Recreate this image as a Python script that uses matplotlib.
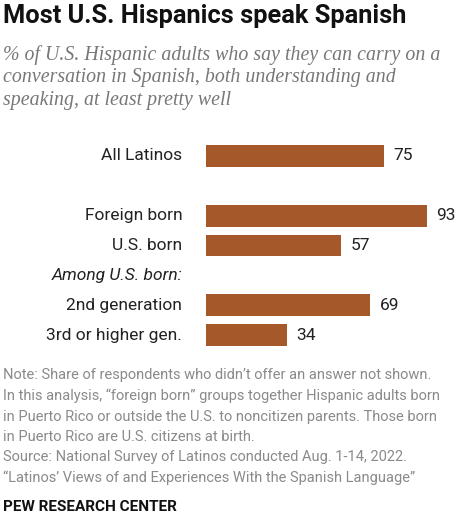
import matplotlib.pyplot as plt
from matplotlib import font_manager

categories = ["All Latinos", "Foreign born", "U.S. born", "2nd generation", "3rd or higher gen."]
values = [75, 93, 57, 69, 34]
rows = [0, 2, 3, 5, 6]
subhead = "Among U.S. born:"
subhead_row = 4

title = "Most U.S. Hispanics speak Spanish"
subtitle = ("% of U.S. Hispanic adults who say they can carry on a\n"
            "conversation in Spanish, both understanding and\n"
            "speaking, at least pretty well")
notes = ("Note: Share of respondents who didn\u2019t offer an answer not shown.\n"
         "In this analysis, \u201cforeign born\u201d groups together Hispanic adults born\n"
         "in Puerto Rico or outside the U.S. to noncitizen parents. Those born\n"
         "in Puerto Rico are U.S. citizens at birth.\n"
         "Source: National Survey of Latinos conducted Aug. 1-14, 2022.\n"
         "\u201cLatinos\u2019 Views of and Experiences With the Spanish Language\u201d")
brand = "PEW RESEARCH CENTER"

names = {f.name for f in font_manager.fontManager.ttflist}
narrow = "Liberation Sans Narrow" if "Liberation Sans Narrow" in names else "Roboto"

bar_color = "#a5582a"
W, H = 474, 518
fig = plt.figure(figsize=(W / 100, H / 100), dpi=100)

# axes placed in pixel terms
left, right, top, bottom = 206, 443.6, 141, 350
ax = fig.add_axes([left / W, 1 - bottom / H, (right - left) / W, (bottom - top) / H])
ax.barh(rows, values, height=0.73, color=bar_color)
ax.set_xlim(0, 100)
ax.set_ylim(6.5, -0.5)
ax.axis("off")

for r, v, c in zip(rows, values, categories):
    ax.text(v + 4, r, str(v), va="center", ha="left", fontsize=12.5,
            family="Roboto", color="#222222")
    ax.text(-10, r, c, va="center", ha="right", fontsize=12.5,
            family="Roboto", color="#222222")
ax.text(-10, subhead_row, subhead, va="center", ha="right", fontsize=12.5,
        family="Roboto", style="italic", color="#222222")

fig.text(3 / W, 1 - 16 / H, title, fontsize=18.3, fontweight="bold",
         family=narrow, va="center", ha="left", color="#111111")
fig.text(3 / W, 1 - 45 / H, subtitle, fontsize=14.3, style="italic",
         family="Liberation Serif", va="top", ha="left", color="#777777",
         linespacing=1.25)
fig.text(3 / W, 1 - 368 / H, notes, fontsize=10.5, family="Roboto",
         va="top", ha="left", color="#8a8a8a", linespacing=1.58)
fig.text(3 / W, 1 - 507 / H, brand, fontsize=11, fontweight="bold",
         family=narrow, va="center", ha="left", color="#111111")

fig.savefig("out.png", dpi=100, facecolor="white")
